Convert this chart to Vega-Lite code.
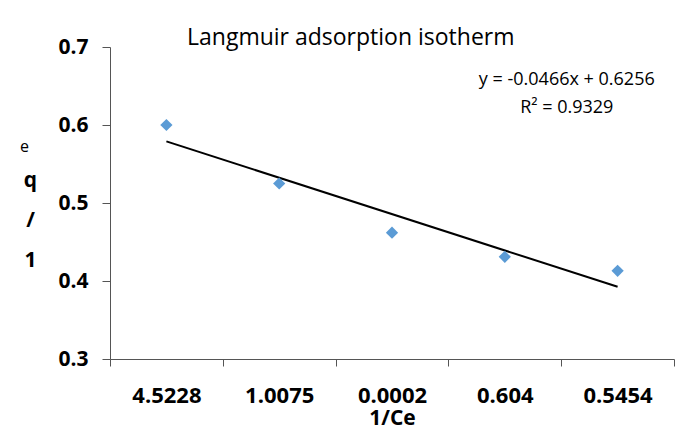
{
  "$schema": "https://vega.github.io/schema/vega-lite/v6.json",
  "autosize": {"type": "none"},
  "width": 564,
  "height": 312,
  "padding": {"left": 110, "top": 47, "right": 17, "bottom": 79},
  "background": "white",
  "config": {"view": {"stroke": null}, "font": "Open Sans"},
  "title": {
    "text": "Langmuir adsorption isotherm",
    "anchor": "start",
    "frame": "group",
    "dx": 77,
    "dy": 36,
    "baseline": "alphabetic",
    "fontSize": 23,
    "fontWeight": "normal",
    "font": "Open Sans",
    "color": "black"
  },
  "datasets": {
    "pts": [
      {"inv_ce": "4.5228", "inv_qe": 0.600},
      {"inv_ce": "1.0075", "inv_qe": 0.525},
      {"inv_ce": "0.0002", "inv_qe": 0.462},
      {"inv_ce": "0.604", "inv_qe": 0.431},
      {"inv_ce": "0.5454", "inv_qe": 0.413}
    ],
    "trend": [
      {"inv_ce": "4.5228", "fit": 0.5790},
      {"inv_ce": "0.5454", "fit": 0.3926}
    ],
    "notes": [
      {"inv_ce": "0.604", "pos": 0.6576, "label": "y = -0.0466x + 0.6256"},
      {"inv_ce": "0.604", "pos": 0.6216, "label": "R² = 0.9329"}
    ]
  },
  "layer": [
    {
      "data": {"name": "trend"},
      "mark": {"type": "line", "color": "black", "strokeWidth": 2},
      "encoding": {
        "x": {
          "field": "inv_ce", "type": "ordinal", "sort": null,
          "scale": {"type": "band", "paddingInner": 0, "paddingOuter": 0,
                    "domain": ["4.5228", "1.0075", "0.0002", "0.604", "0.5454"]},
          "axis": {
            "title": "1/Ce",
            "titleFontSize": 21, "titleFontWeight": "bold", "titleColor": "black", "titlePadding": 1,
            "labelFontSize": 22, "labelFontWeight": "bold", "labelColor": "black", "labelAngle": 0,
            "labelPadding": 19,
            "tickBand": "extent", "tickSize": 7, "tickColor": "#555", "domainColor": "#555",
            "grid": false
          }
        },
        "y": {
          "field": "fit", "type": "quantitative",
          "scale": {"domain": [0.3, 0.7], "nice": false, "zero": false},
          "axis": {
            "values": [0.3, 0.4, 0.5, 0.6, 0.7], "format": ".1f",
            "grid": false, "tickSize": 8, "tickColor": "#555", "domainColor": "#555",
            "labelFontSize": 21, "labelFontWeight": "bold", "labelColor": "black", "labelPadding": 14,
            "title": ["q", "/", "1"], "titleAngle": 0, "titleAlign": "center", "titleBaseline": "alphabetic",
            "titleX": -80, "titleY": 139, "titleLineHeight": 40,
            "titleFontSize": 21, "titleFontWeight": "bold", "titleColor": "black"
          }
        }
      }
    },
    {
      "data": {"name": "pts"},
      "mark": {"type": "point", "shape": "diamond", "filled": true, "size": 150, "color": "#5B9BD5", "opacity": 1},
      "encoding": {
        "x": {"field": "inv_ce", "type": "ordinal", "sort": null},
        "y": {"field": "inv_qe", "type": "quantitative"}
      }
    },
    {
      "data": {"name": "notes"},
      "mark": {"type": "text", "fontSize": 18, "fontWeight": 500, "align": "center", "baseline": "middle", "dx": 62, "color": "black"},
      "encoding": {
        "x": {"field": "inv_ce", "type": "ordinal", "sort": null},
        "y": {"field": "pos", "type": "quantitative"},
        "text": {"field": "label"}
      }
    },
    {
      "data": {"values": [{"inv_ce": "4.5228", "pos": 0.5655, "label": "e"}]},
      "mark": {"type": "text", "fontSize": 16, "align": "center", "baseline": "alphabetic", "dx": -142, "color": "black"},
      "encoding": {
        "x": {"field": "inv_ce", "type": "ordinal", "sort": null},
        "y": {"field": "pos", "type": "quantitative"},
        "text": {"field": "label"}
      }
    }
  ]
}
